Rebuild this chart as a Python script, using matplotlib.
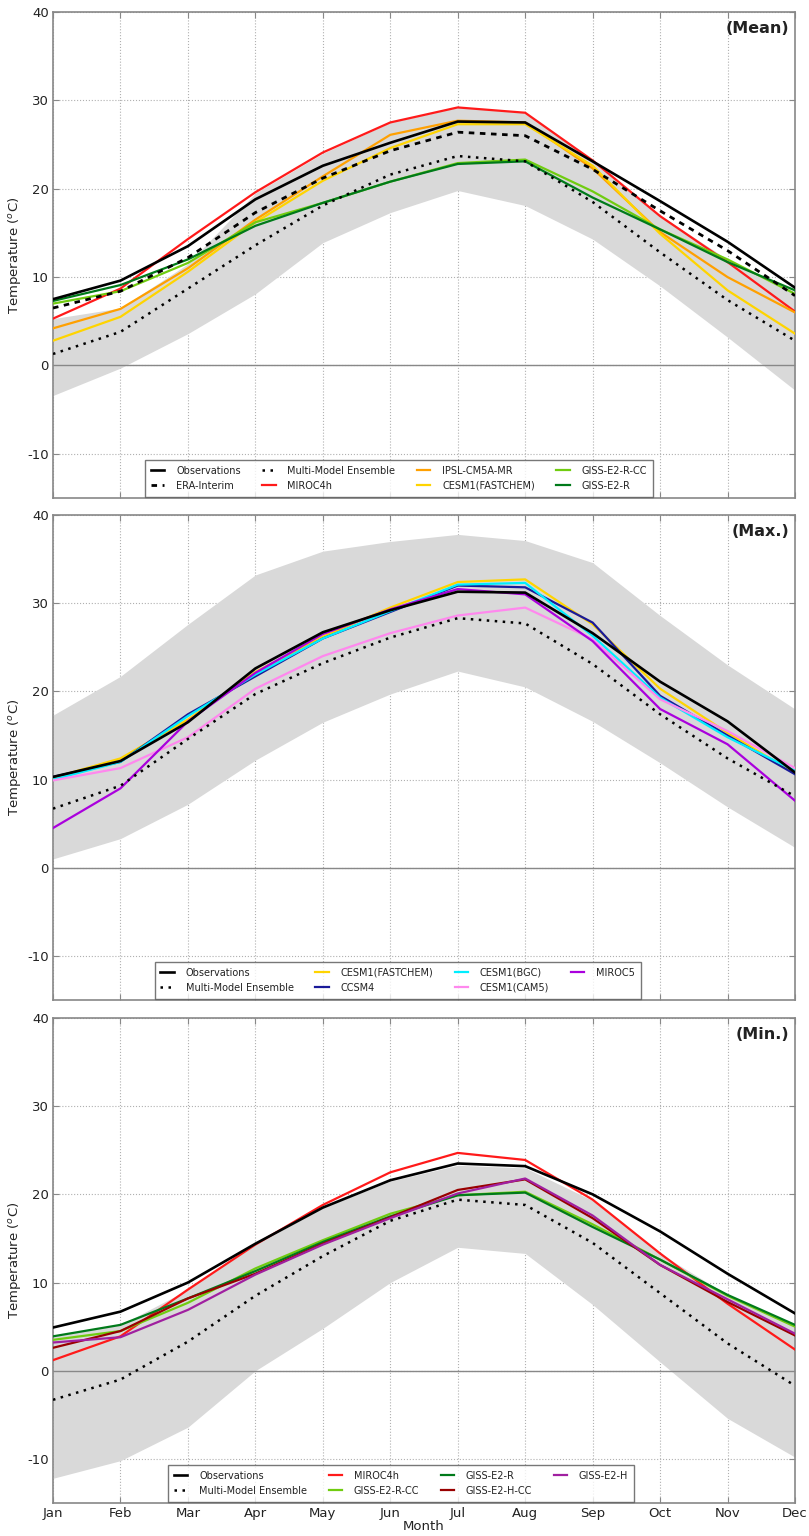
import matplotlib
matplotlib.use("Agg")
import matplotlib.pyplot as plt
import numpy as np

months = ["Jan", "Feb", "Mar", "Apr", "May", "Jun", "Jul", "Aug", "Sep", "Oct", "Nov", "Dec"]

# ---------------- Panel 1: Mean ----------------
mean_obs = [7.5, 9.6, 13.5, 18.8, 22.6, 25.2, 27.6, 27.5, 23.1, 18.6, 14.0, 8.8]
mean_era = [6.5, 8.4, 12.2, 17.3, 21.2, 24.3, 26.4, 26.0, 22.2, 17.5, 13.0, 7.9]
mean_mme = [1.3, 3.8, 8.7, 13.6, 18.1, 21.6, 23.7, 23.1, 18.5, 12.8, 7.4, 2.8]
mean_miroc4h = [5.3, 8.7, 14.3, 19.6, 24.1, 27.5, 29.2, 28.6, 23.2, 16.9, 11.7, 6.1]
mean_ipsl = [4.2, 6.4, 11.0, 16.5, 21.4, 26.1, 27.7, 27.5, 22.3, 15.1, 10.0, 6.0]
mean_cesm_fc = [2.8, 5.5, 10.6, 16.2, 20.9, 24.6, 27.3, 27.3, 22.6, 14.9, 8.5, 3.6]
mean_giss_rcc = [7.0, 8.4, 11.6, 16.2, 18.4, 20.8, 22.9, 23.3, 19.7, 15.4, 12.0, 8.1]
mean_giss_r = [7.3, 9.1, 12.0, 15.8, 18.4, 20.8, 22.8, 23.1, 19.0, 15.4, 11.7, 8.5]
mean_band_lo = [-3.4, -0.3, 3.6, 8.1, 13.9, 17.3, 19.8, 18.1, 14.3, 9.0, 3.2, -2.8]
mean_band_hi = [5.3, 6.5, 11.5, 19.5, 24.0, 27.5, 29.2, 28.6, 23.2, 17.0, 12.0, 8.3]

# ---------------- Panel 2: Max ----------------
max_obs = [10.3, 12.1, 16.5, 22.6, 26.7, 29.2, 31.3, 31.2, 26.6, 21.1, 16.6, 10.8]
max_mme = [6.7, 9.3, 14.6, 19.7, 23.2, 26.1, 28.3, 27.7, 23.1, 17.4, 12.4, 8.1]
max_cesm_fc = [10.2, 12.4, 16.8, 22.2, 26.2, 29.5, 32.4, 32.7, 27.6, 20.3, 15.3, 10.7]
max_ccsm4 = [10.3, 12.0, 17.4, 21.7, 26.0, 29.0, 32.0, 31.8, 27.8, 19.5, 15.0, 10.6]
max_cesm_bgc = [10.0, 12.0, 17.2, 21.9, 26.0, 29.1, 32.1, 32.3, 26.3, 19.3, 14.8, 11.0]
max_cesm_cam5 = [9.9, 11.3, 14.8, 20.3, 24.0, 26.6, 28.6, 29.5, 25.9, 19.1, 15.5, 11.3]
max_miroc5 = [4.5, 9.0, 16.6, 22.1, 26.5, 29.3, 31.6, 31.0, 25.7, 18.0, 14.0, 7.6]
max_band_lo = [1.0, 3.3, 7.2, 12.2, 16.5, 19.7, 22.3, 20.5, 16.6, 11.9, 6.9, 2.3]
max_band_hi = [17.3, 21.7, 27.6, 33.2, 35.9, 37.0, 37.8, 37.1, 34.6, 28.6, 23.0, 18.0]

# ---------------- Panel 3: Min ----------------
min_obs = [4.9, 6.7, 10.0, 14.4, 18.5, 21.6, 23.5, 23.2, 20.0, 15.8, 11.0, 6.5]
min_mme = [-3.3, -1.0, 3.3, 8.5, 13.0, 17.0, 19.4, 18.8, 14.5, 8.8, 3.1, -1.7]
min_miroc4h = [1.2, 3.9, 9.2, 14.3, 18.8, 22.5, 24.7, 23.9, 19.4, 13.3, 7.6, 2.4]
min_giss_rcc = [3.5, 4.5, 7.7, 11.6, 14.8, 17.8, 19.9, 20.3, 16.6, 12.6, 8.5, 5.0]
min_giss_r = [3.9, 5.2, 8.2, 11.3, 14.6, 17.5, 19.9, 20.2, 16.3, 12.6, 8.6, 5.2]
min_giss_hcc = [2.6, 4.5, 8.2, 11.0, 14.4, 17.4, 20.5, 21.7, 17.3, 12.0, 7.8, 4.0]
min_giss_h = [3.2, 3.8, 6.9, 10.9, 14.3, 17.3, 20.1, 21.8, 17.6, 12.0, 8.1, 4.2]
min_band_lo = [-12.2, -10.2, -6.4, 0.0, 4.8, 10.0, 14.0, 13.3, 7.5, 1.0, -5.4, -9.8]
min_band_hi = [3.9, 5.2, 9.2, 14.3, 18.5, 21.5, 23.3, 23.0, 19.3, 13.3, 8.6, 5.2]

C_OBS = "black"
C_MIROC4H = "#ff1a1a"
C_IPSL = "#ffa000"
C_CESMFC = "#ffd400"
C_GISSRCC = "#70cc10"
C_GISSR = "#007a1a"
C_CCSM4 = "#1a1a99"
C_BGC = "#00eeff"
C_CAM5 = "#ff88ee"
C_MIROC5 = "#aa00dd"
C_GISSHCC = "#990000"
C_GISSH = "#a020a0"

plt.rcParams["font.family"] = ["DejaVu Sans"]
plt.rcParams["axes.unicode_minus"] = False

fig = plt.figure(figsize=(8.09, 15.36), dpi=100)
L, W = 53 / 809, 742 / 809
axes_rects = [
    (L, 1 - 498 / 1536, W, 486 / 1536),
    (L, 1 - 1000 / 1536, W, 485 / 1536),
    (L, 1 - 1503 / 1536, W, 485 / 1536),
]
x = np.arange(12)

SPINE = "#888888"
TXT = "#222222"
LW = 1.6


def style_axis(ax, title, show_xlabels):
    ax.set_xlim(0, 11)
    ax.set_ylim(-15, 40)
    ax.set_yticks([-10, 0, 10, 20, 30, 40])
    ax.set_xticks(x)
    if show_xlabels:
        ax.set_xticklabels(months)
        ax.set_xlabel("Month", fontsize=9.5, color=TXT, labelpad=0)
    else:
        ax.set_xticklabels([])
    ax.grid(True, linestyle=":", color="#b0b0b0", linewidth=0.8)
    ax.set_axisbelow(True)
    for s in ax.spines.values():
        s.set_color(SPINE)
        s.set_linewidth(1.2)
    ax.tick_params(direction="in", length=4, color=SPINE, labelsize=9.5,
                   labelcolor=TXT, top=True, right=True, pad=3)
    ax.set_ylabel(r"Temperature ($^{o}$C)", fontsize=9.5, color=TXT, labelpad=3)
    ax.axhline(0, color="#888888", linewidth=1.0, zorder=2)
    ax.text(0.992, 0.982, title, transform=ax.transAxes, ha="right", va="top",
            fontsize=11.5, fontweight="bold", color=TXT)


def legend(ax, x0):
    leg = ax.legend(ncol=4, loc="lower left", bbox_to_anchor=(x0, 0.003),
                    borderaxespad=0, fontsize=7, frameon=True, fancybox=False,
                    handlelength=1.4, columnspacing=2.2, handletextpad=1.2,
                    labelspacing=0.5, borderpad=0.6)
    leg.get_frame().set_edgecolor("#555555")
    leg.get_frame().set_linewidth(1.0)
    for t in leg.get_texts():
        t.set_color(TXT)
    return leg


# Panel 1
ax = fig.add_axes(axes_rects[0])
ax.fill_between(x, mean_band_lo, mean_band_hi, color="#d9d9d9", linewidth=0, zorder=1)
ax.plot(x, mean_obs, color=C_OBS, lw=1.9, label="Observations", zorder=5)
ax.plot(x, mean_era, color=C_OBS, lw=2.0, ls=(0, (2.0, 2.0)), label="ERA-Interim", zorder=5)
ax.plot(x, mean_mme, color=C_OBS, lw=1.8, ls=(0, (1, 2.2)), label="Multi-Model Ensemble", zorder=5)
ax.plot(x, mean_miroc4h, color=C_MIROC4H, lw=LW, label="MIROC4h", zorder=4)
ax.plot(x, mean_ipsl, color=C_IPSL, lw=LW, label="IPSL-CM5A-MR", zorder=4)
ax.plot(x, mean_cesm_fc, color=C_CESMFC, lw=LW, label="CESM1(FASTCHEM)", zorder=4)
ax.plot(x, mean_giss_rcc, color=C_GISSRCC, lw=LW, label="GISS-E2-R-CC", zorder=4)
ax.plot(x, mean_giss_r, color=C_GISSR, lw=LW, label="GISS-E2-R", zorder=4)
style_axis(ax, "(Mean)", False)
legend(ax, 0.124)

# Panel 2
ax = fig.add_axes(axes_rects[1])
ax.fill_between(x, max_band_lo, max_band_hi, color="#d9d9d9", linewidth=0, zorder=1)
ax.plot(x, max_obs, color=C_OBS, lw=1.9, label="Observations", zorder=5)
ax.plot(x, max_mme, color=C_OBS, lw=1.8, ls=(0, (1, 2.2)), label="Multi-Model Ensemble", zorder=5)
ax.plot(x, max_cesm_fc, color=C_CESMFC, lw=LW, label="CESM1(FASTCHEM)", zorder=4)
ax.plot(x, max_ccsm4, color=C_CCSM4, lw=LW, label="CCSM4", zorder=4)
ax.plot(x, max_cesm_bgc, color=C_BGC, lw=LW, label="CESM1(BGC)", zorder=4)
ax.plot(x, max_cesm_cam5, color=C_CAM5, lw=LW, label="CESM1(CAM5)", zorder=4)
ax.plot(x, max_miroc5, color=C_MIROC5, lw=LW, label="MIROC5", zorder=4)
style_axis(ax, "(Max.)", False)
legend(ax, 0.137)

# Panel 3
ax = fig.add_axes(axes_rects[2])
ax.fill_between(x, min_band_lo, min_band_hi, color="#d9d9d9", linewidth=0, zorder=1)
ax.plot(x, min_obs, color=C_OBS, lw=1.9, label="Observations", zorder=5)
ax.plot(x, min_mme, color=C_OBS, lw=1.8, ls=(0, (1, 2.2)), label="Multi-Model Ensemble", zorder=5)
ax.plot(x, min_miroc4h, color=C_MIROC4H, lw=LW, label="MIROC4h", zorder=4)
ax.plot(x, min_giss_rcc, color=C_GISSRCC, lw=LW, label="GISS-E2-R-CC", zorder=4)
ax.plot(x, min_giss_r, color=C_GISSR, lw=LW, label="GISS-E2-R", zorder=4)
ax.plot(x, min_giss_hcc, color=C_GISSHCC, lw=LW, label="GISS-E2-H-CC", zorder=4)
ax.plot(x, min_giss_h, color=C_GISSH, lw=LW, label="GISS-E2-H", zorder=4)
style_axis(ax, "(Min.)", True)
legend(ax, 0.155)

fig.savefig("out.png", dpi=100)
